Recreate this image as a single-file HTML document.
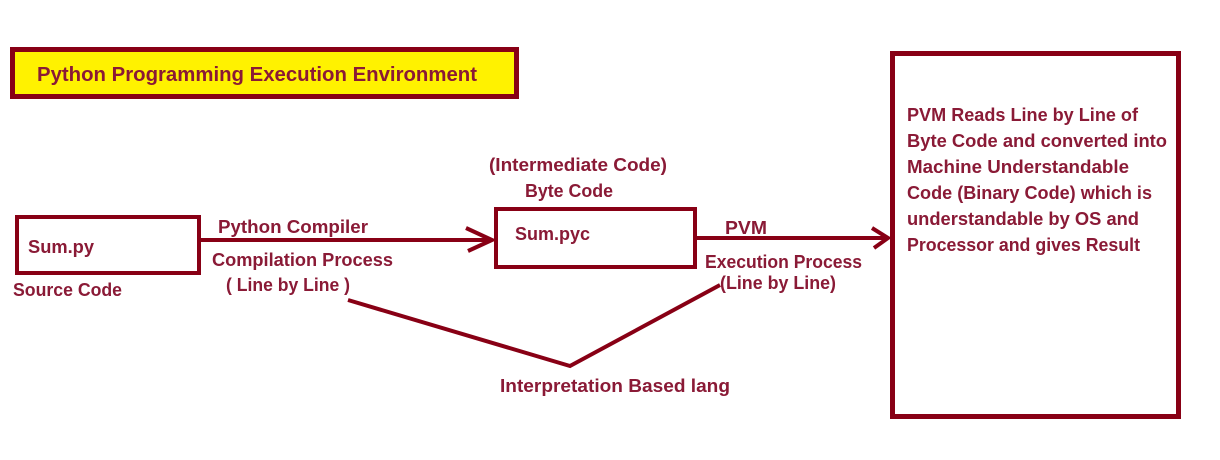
<!DOCTYPE html>
<html><head><meta charset="utf-8"><style>
html,body{margin:0;padding:0;background:#fff;width:1220px;height:460px;overflow:hidden}
text{font-family:"Liberation Sans",sans-serif;font-weight:bold;fill:#8a1a36}
</style></head><body>
<svg width="1220" height="460" xmlns="http://www.w3.org/2000/svg">
<g fill="none" stroke="#880015" stroke-width="4">
<rect x="12.5" y="49.5" width="504" height="47" fill="#fff200" stroke-width="5"/>
<rect x="17" y="217" width="182" height="56"/>
<rect x="496" y="209" width="199" height="58"/>
<rect x="892.5" y="53.5" width="286" height="363" stroke-width="5"/>
<line x1="201" y1="240" x2="492" y2="240"/>
<polyline points="466,228 492,240 468,251"/>
<line x1="697" y1="238" x2="888" y2="238"/>
<polyline points="872,228 888,238 874,248"/>
<polyline points="348,300 570,366 720,285"/>
</g>
<text x="37" y="81" font-size="20" textLength="440" lengthAdjust="spacingAndGlyphs">Python Programming Execution Environment</text>
<g font-size="18">
<text x="28" y="253" textLength="66" lengthAdjust="spacingAndGlyphs">Sum.py</text>
<text x="13" y="296" textLength="109" lengthAdjust="spacingAndGlyphs">Source Code</text>
<text x="218" y="233" textLength="150" lengthAdjust="spacingAndGlyphs">Python Compiler</text>
<text x="212" y="266" textLength="181" lengthAdjust="spacingAndGlyphs">Compilation Process</text>
<text x="226" y="291" textLength="124" lengthAdjust="spacingAndGlyphs">( Line by Line )</text>
<text x="489" y="171" textLength="178" lengthAdjust="spacingAndGlyphs">(Intermediate Code)</text>
<text x="525" y="197" textLength="88" lengthAdjust="spacingAndGlyphs">Byte Code</text>
<text x="515" y="240" textLength="75" lengthAdjust="spacingAndGlyphs">Sum.pyc</text>
<text x="725" y="234" textLength="42" lengthAdjust="spacingAndGlyphs">PVM</text>
<text x="705" y="268" textLength="157" lengthAdjust="spacingAndGlyphs">Execution Process</text>
<text x="720" y="289" textLength="116" lengthAdjust="spacingAndGlyphs">(Line by Line)</text>
<text x="500" y="392" textLength="230" lengthAdjust="spacingAndGlyphs">Interpretation  Based lang</text>
<text x="907" y="121" textLength="231" lengthAdjust="spacingAndGlyphs">PVM Reads Line by Line of</text>
<text x="907" y="147" textLength="260" lengthAdjust="spacingAndGlyphs">Byte Code and converted into</text>
<text x="907" y="173" textLength="222" lengthAdjust="spacingAndGlyphs">Machine Understandable</text>
<text x="907" y="199" textLength="245" lengthAdjust="spacingAndGlyphs">Code (Binary Code) which is</text>
<text x="907" y="225" textLength="232" lengthAdjust="spacingAndGlyphs">understandable by OS and</text>
<text x="907" y="251" textLength="233" lengthAdjust="spacingAndGlyphs">Processor and gives Result</text>
</g>
</svg>
</body></html>
